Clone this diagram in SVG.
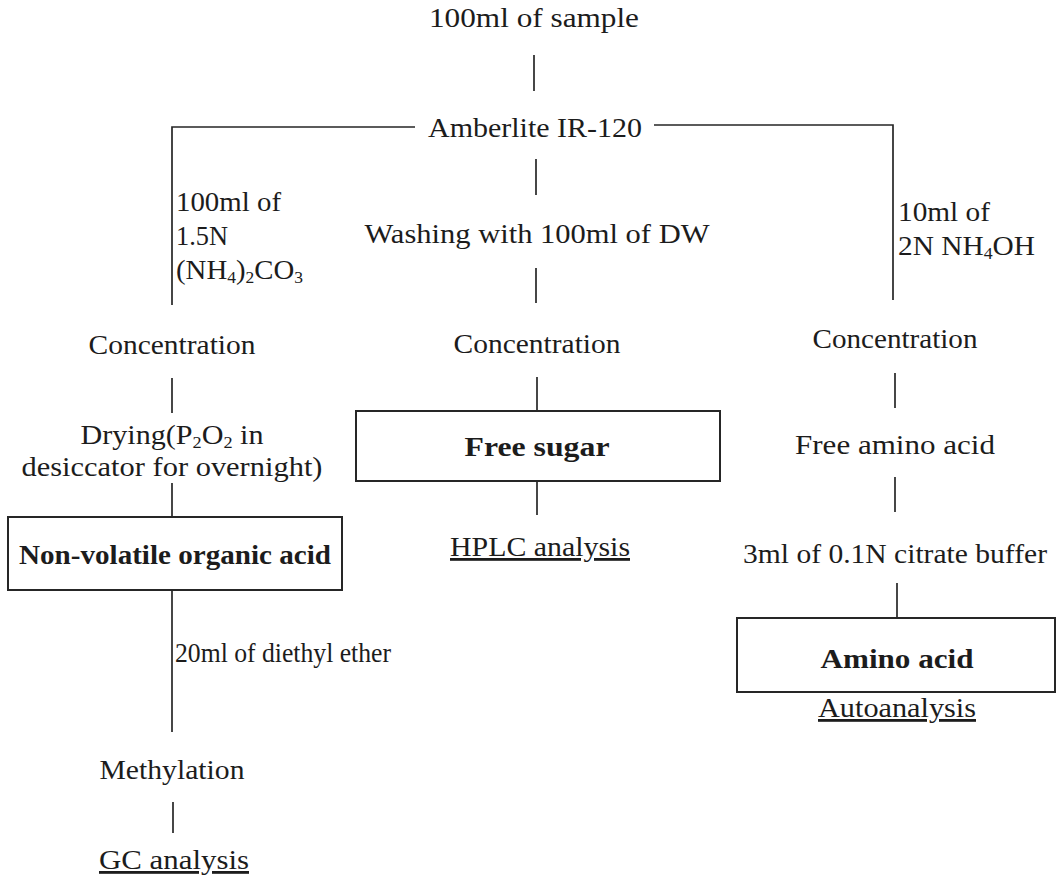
<svg xmlns="http://www.w3.org/2000/svg" width="1057" height="895" viewBox="0 0 1057 895">
  <style>
    text { font-family: "Liberation Serif", "Times New Roman", serif; font-size: 28px; fill: #1c1c1c; }
    .c { text-anchor: middle; }
    .b { font-weight: bold; }
    .u { text-decoration: underline; }
    .sub { font-size: 17px; }
    .box { fill: #ffffff; stroke: #262626; stroke-width: 2; }
    .ln { fill: none; stroke: #262626; stroke-width: 1.7; }
  </style>
  <rect width="1057" height="895" fill="#ffffff"/>

  <!-- connectors -->
  <g id="connectors" class="ln">
    <line x1="534" y1="55" x2="534" y2="91"/>
    <path d="M415,127 H172 V305"/>
    <path d="M654,125 H893 V300"/>
    <line x1="536" y1="159" x2="536" y2="195"/>
    <line x1="536" y1="268" x2="536" y2="303"/>
    <line x1="172" y1="378" x2="172" y2="413"/>
    <line x1="537" y1="377" x2="537" y2="411"/>
    <line x1="895" y1="373" x2="895" y2="408"/>
    <line x1="172" y1="483" x2="172" y2="517"/>
    <line x1="537" y1="481" x2="537" y2="515"/>
    <line x1="895" y1="477" x2="895" y2="512"/>
    <line x1="897" y1="583" x2="897" y2="618"/>
    <line x1="172" y1="590" x2="172" y2="732"/>
    <line x1="173" y1="802" x2="173" y2="833"/>
  </g>

  <!-- step labels on the branches -->
  <g id="branch-labels">
    <text x="176" y="211" textLength="105" lengthAdjust="spacingAndGlyphs">100ml of</text>
    <text x="176" y="245" textLength="52" lengthAdjust="spacingAndGlyphs">1.5N</text>
    <text x="176" y="279" textLength="127" lengthAdjust="spacingAndGlyphs">(NH<tspan class="sub" dy="4">4</tspan><tspan dy="-4">)</tspan><tspan class="sub" dy="4">2</tspan><tspan dy="-4">CO</tspan><tspan class="sub" dy="4">3</tspan></text>
    <text x="898" y="221" textLength="92" lengthAdjust="spacingAndGlyphs">10ml of</text>
    <text x="898" y="255" textLength="137" lengthAdjust="spacingAndGlyphs">2N NH<tspan class="sub" dy="4">4</tspan><tspan dy="-4">OH</tspan></text>
    <text x="175" y="662" textLength="216" lengthAdjust="spacingAndGlyphs">20ml of diethyl ether</text>
  </g>

  <g id="sample"><text class="c" x="534" y="27" textLength="210" lengthAdjust="spacingAndGlyphs">100ml of sample</text></g>
  <g id="amberlite"><text class="c" x="535" y="137" textLength="214" lengthAdjust="spacingAndGlyphs">Amberlite IR-120</text></g>
  <g id="washing"><text class="c" x="537" y="243" textLength="345" lengthAdjust="spacingAndGlyphs">Washing with 100ml of DW</text></g>

  <g id="conc-left"><text class="c" x="172" y="354" textLength="167" lengthAdjust="spacingAndGlyphs">Concentration</text></g>
  <g id="conc-mid"><text class="c" x="537" y="353" textLength="167" lengthAdjust="spacingAndGlyphs">Concentration</text></g>
  <g id="conc-right"><text class="c" x="895" y="348" textLength="165" lengthAdjust="spacingAndGlyphs">Concentration</text></g>

  <g id="drying">
    <text class="c" x="172" y="444" textLength="183" lengthAdjust="spacingAndGlyphs">Drying(P<tspan class="sub" dy="4">2</tspan><tspan dy="-4">O</tspan><tspan class="sub" dy="4">2</tspan><tspan dy="-4"> in</tspan></text>
    <text class="c" x="172" y="476" textLength="301" lengthAdjust="spacingAndGlyphs">desiccator for overnight)</text>
  </g>

  <g id="organic-acid">
    <rect class="box" x="8" y="517" width="334" height="73"/>
    <text class="c b" x="175" y="564" textLength="312" lengthAdjust="spacingAndGlyphs">Non-volatile organic acid</text>
  </g>

  <g id="free-sugar">
    <rect class="box" x="356" y="411" width="364" height="70"/>
    <text class="c b" x="537" y="456" textLength="145" lengthAdjust="spacingAndGlyphs">Free sugar</text>
  </g>

  <g id="hplc"><text class="c u" x="540" y="556" textLength="180" lengthAdjust="spacingAndGlyphs">HPLC analysis</text></g>

  <g id="free-amino"><text class="c" x="895" y="454" textLength="200" lengthAdjust="spacingAndGlyphs">Free amino acid</text></g>
  <g id="citrate"><text class="c" x="895" y="563" textLength="304" lengthAdjust="spacingAndGlyphs">3ml of 0.1N citrate buffer</text></g>

  <g id="amino-acid">
    <rect class="box" x="737" y="618" width="318" height="74"/>
    <text class="c b" x="897" y="668" textLength="153" lengthAdjust="spacingAndGlyphs">Amino acid</text>
  </g>

  <g id="autoanalysis"><text class="c u" x="897" y="717" textLength="158" lengthAdjust="spacingAndGlyphs">Autoanalysis</text></g>

  <g id="methylation"><text class="c" x="172" y="779" textLength="145" lengthAdjust="spacingAndGlyphs">Methylation</text></g>
  <g id="gc"><text class="c u" x="174" y="869" textLength="150" lengthAdjust="spacingAndGlyphs">GC analysis</text></g>
</svg>
